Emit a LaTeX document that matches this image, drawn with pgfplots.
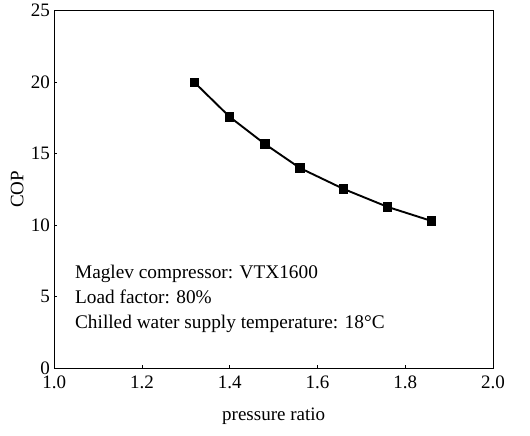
\documentclass[border=0pt]{standalone}
\usepackage{pgfplots}
\pgfplotsset{compat=1.18}
\usepackage{fontspec}
\setmainfont{Liberation Serif}
\begin{document}
\begin{tikzpicture}[x=1pt,y=1pt]
\useasboundingbox (0,0) rectangle (530,436);
\begin{axis}[
  at={(54.3pt,67.7pt)}, anchor=south west,
  scale only axis, width=438.7pt, height=357.6pt,
  xmin=1.0, xmax=2.0, ymin=0, ymax=25,
  xtick={1.0,1.2,...,2.0}, ytick={0,5,...,25},
  xticklabel style={yshift=-4pt, /pgf/number format/.cd,fixed,fixed zerofill,precision=1},
  /pgf/number format/assume math mode=true,
  tick align=inside, major tick length=3pt,
  xtick pos=bottom, ytick pos=left,
  axis line style={line width=0.9pt},
  tick style={line width=0.9pt, black},
  ticklabel style={font=\fontsize{19}{22}\selectfont},
  yticklabel style={xshift=-1pt},
  label style={font=\fontsize{19}{22}\selectfont},
  xlabel={pressure ratio}, ylabel={COP},
  xlabel style={at={(axis description cs:0.5,0)}, anchor=center, yshift=-48pt},
  ylabel style={at={(axis description cs:0,0.5)}, anchor=center, yshift=37pt},
]
\addplot[black, line width=1.9pt, mark=square*, mark size=3.7pt, mark options={solid}]
 coordinates {(1.32,19.97) (1.40,17.57) (1.48,15.68) (1.56,14.0) (1.66,12.53) (1.76,11.28) (1.86,10.3)};
\node[anchor=base west, font=\fontsize{19.3}{22}\selectfont, inner sep=0] at (axis cs:1.047,6.31) {Maglev compressor: VTX1600};
\node[anchor=base west, font=\fontsize{19.3}{22}\selectfont, inner sep=0] at (axis cs:1.047,4.56) {Load factor: 80\%};
\node[anchor=base west, font=\fontsize{19.3}{22}\selectfont, inner sep=0] at (axis cs:1.047,2.81) {Chilled water supply temperature: 18°C};
\end{axis}
\end{tikzpicture}
\end{document}
